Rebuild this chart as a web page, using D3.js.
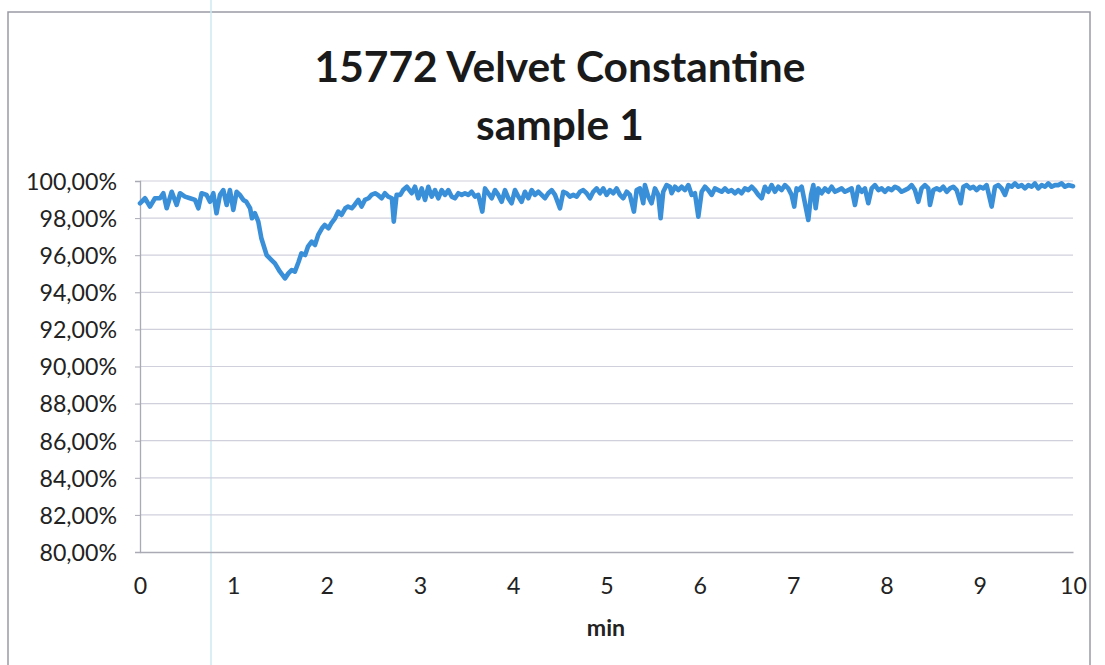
<!DOCTYPE html>
<html><head><meta charset="utf-8">
<script src="https://cdn.jsdelivr.net/npm/d3@7"></script>
<style>html,body{margin:0;padding:0;background:#fff;} svg{display:block;}</style>
</head><body>
<svg id="chart" width="1105" height="665"></svg>
<script>
const titleLines = ["15772 Velvet Constantine", "sample 1"];
const xLabel = "min";
const xTicks = [0,1,2,3,4,5,6,7,8,9,10];
const yTicks = [80,82,84,86,88,90,92,94,96,98,100];
const minutes = [
0.00,0.054,0.107,0.16,0.214,0.25,0.286,0.34,0.393,0.429,0.482,0.536,0.59,0.625,0.66,0.714,0.75,0.786,0.82,0.857,0.893,0.929,0.964,1.0,1.036,1.07,1.107,1.14,1.18,1.2,1.232,1.268,1.3,1.357,1.41,
1.446,1.50,1.554,1.59,1.625,1.66,1.70,1.73,1.77,1.80,1.84,1.875,1.91,1.95,1.98,2.02,2.05,2.09,2.125,2.16,2.20,2.23,2.27,2.30,2.34,2.375,2.41,2.45,2.48,2.52,2.55,2.59,2.625,2.66,2.70,2.72,2.75,2.79,2.82,2.86,
2.912,2.947,2.983,3.019,3.055,3.09,3.126,3.162,3.197,3.233,3.269,3.305,3.34,3.376,3.412,3.448,3.483,3.519,3.555,3.59,3.626,3.669,3.698,3.733,3.769,3.805,3.84,3.876,3.912,3.948,3.983,4.019,4.055,4.09,4.126,4.162,4.198,4.233,4.269,
4.305,4.34,4.376,4.412,4.448,4.501,4.537,4.573,4.608,4.644,4.68,4.716,4.751,4.787,4.823,4.858,4.894,4.93,4.966,5.001,5.037,5.073,5.108,5.144,5.18,5.216,5.251,5.294,5.323,5.358,5.394,5.412,5.448,5.483,5.519,5.555,5.58,5.608,5.644,5.68,
5.698,5.734,5.77,5.805,5.841,5.877,5.913,5.948,5.984,6.02,6.055,6.091,6.127,6.162,6.198,6.234,6.27,6.305,6.341,6.377,6.412,6.448,6.484,6.52,6.555,6.591,6.627,6.663,6.698,6.734,6.77,6.805,6.841,6.877,6.913,6.948,6.984,7.012,7.037,
7.056,7.092,7.127,7.163,7.192,7.217,7.242,7.27,7.306,7.342,7.377,7.413,7.449,7.485,7.52,7.556,7.592,7.627,7.663,7.699,7.735,7.77,7.806,7.842,7.877,7.913,7.949,7.985,8.02,8.056,8.092,8.127,8.163,8.199,8.235,8.27,8.306,8.342,8.377,8.413,8.449,
8.467,8.503,8.539,8.574,8.61,8.646,8.682,8.717,8.753,8.796,8.825,8.86,8.896,8.932,8.967,9.003,9.039,9.074,9.128,9.164,9.2,9.235,9.271,9.307,9.342,9.378,9.414,9.45,9.485,9.521,9.557,9.592,9.628,9.664,9.7,9.735,9.771,9.807,9.842,9.878,9.914,9.95,10.0
];
const purity = [
98.80,99.07,98.62,99.07,99.07,99.34,98.53,99.42,98.71,99.34,99.16,99.07,98.98,98.53,99.34,99.25,98.88,99.34,98.26,99.25,99.51,98.71,99.51,98.44,99.42,99.25,98.98,98.88,98.53,97.99,98.26,97.81,96.93,96.01,95.74,
95.56,95.11,94.75,95.02,95.20,95.11,95.65,96.10,96.01,96.46,96.73,96.55,97.09,97.45,97.63,97.45,97.72,97.99,98.35,98.17,98.53,98.62,98.53,98.71,98.98,98.62,98.98,99.07,99.25,99.34,99.25,99.07,99.34,99.16,99.07,97.81,99.25,99.25,99.51,99.69,
99.34,99.69,99.07,99.60,98.98,99.69,99.16,99.51,99.07,99.51,99.25,99.51,99.16,99.07,99.34,99.25,99.34,99.25,99.42,99.16,99.25,98.35,99.60,99.34,99.07,99.51,99.25,98.88,99.51,99.07,98.80,99.51,99.16,98.88,99.42,99.07,99.51,99.25,99.42,
99.25,99.07,99.34,99.51,99.25,98.53,99.42,99.34,99.16,99.25,99.16,99.42,99.51,99.34,99.07,99.42,99.60,99.34,99.60,99.25,99.51,99.34,99.60,99.25,99.07,99.42,99.25,98.35,99.51,99.60,98.80,99.78,99.16,98.80,99.60,99.25,97.99,99.42,99.78,99.69,
99.34,99.69,99.51,99.69,99.51,99.78,99.25,99.34,98.08,99.42,99.69,99.51,99.25,99.60,99.51,99.42,99.60,99.42,99.51,99.34,99.51,99.34,99.60,99.51,99.69,99.51,99.25,99.07,99.69,99.42,99.78,99.42,99.69,99.51,99.78,99.60,99.25,98.62,99.60,
99.51,99.69,98.80,97.90,99.25,99.78,98.53,99.60,99.34,99.60,99.42,99.69,99.42,99.51,99.60,99.42,99.51,99.60,98.71,99.69,99.42,99.60,98.80,99.60,99.78,99.51,99.60,99.42,99.60,99.51,99.69,99.60,99.42,99.51,99.60,99.78,99.51,98.88,99.60,99.78,99.60,
98.71,99.51,99.60,99.51,99.69,99.42,99.60,99.69,99.51,98.80,99.69,99.78,99.60,99.69,99.51,99.69,99.60,99.78,98.62,99.69,99.78,99.60,99.25,99.78,99.69,99.87,99.69,99.78,99.60,99.78,99.69,99.87,99.60,99.78,99.69,99.87,99.69,99.78,99.78,99.87,99.69,99.78,99.72
];

const svg = d3.select("#chart");
const FONT = "Lato, 'Open Sans', sans-serif";

// outer frame (scan of chart border) and scan artifact line
svg.append("path").attr("d","M8,665 L8,12 L1090,12 L1090,665")
  .attr("fill","none").attr("stroke","#9a9aa6").attr("stroke-width",1.5);
svg.append("line").attr("x1",211).attr("x2",211).attr("y1",0).attr("y2",665)
  .attr("stroke","#cdeaf2").attr("stroke-width",1.5);

const x = d3.scaleLinear().domain([0,10]).range([140,1073]);
const y = d3.scaleLinear().domain([80,100]).range([552,181]);

function fit(sel, target){
  const w = sel.node().getComputedTextLength();
  const fs = parseFloat(sel.attr("font-size"));
  return fs * target / w;
}

// gridlines
svg.append("g").selectAll("line").data(yTicks.filter(d=>d>80)).join("line")
  .attr("x1",x(0)).attr("x2",x(10)).attr("y1",d=>y(d)).attr("y2",d=>y(d))
  .attr("stroke","#cfd0dc").attr("stroke-width",1.2);

// y axis
const fmt = d => d.toFixed(2).replace(".", ",") + "%";
const yAxis = svg.append("g").attr("transform",`translate(${x(0)},0)`)
  .call(d3.axisLeft(y).tickValues(yTicks).tickFormat(fmt).tickSize(5).tickPadding(18));
yAxis.select(".domain").attr("stroke","#a9aab4").attr("stroke-width",1.3);
yAxis.selectAll(".tick line").attr("stroke","#a9aab4");
yAxis.selectAll("text").attr("font-family",FONT).attr("font-size",22).attr("fill","#222");
const probe = yAxis.selectAll("text").filter(d=>d===100);
const tickFs = fit(probe, 91);
yAxis.selectAll("text").attr("font-size",tickFs).attr("x",-23).attr("dy","0.36em");

// x axis
const xAxis = svg.append("g").attr("transform",`translate(0,${y(80)})`)
  .call(d3.axisBottom(x).tickValues(xTicks).tickFormat(d3.format("d")).tickSize(0).tickPadding(26));
xAxis.select(".domain").attr("stroke","#a9aab4").attr("stroke-width",1.3);
xAxis.selectAll("text").attr("font-family",FONT).attr("font-size",tickFs).attr("fill","#222");

// line
const pts = minutes.map((m,i)=>[m,purity[i]]);
svg.append("path").datum(pts)
  .attr("d", d3.line().x(d=>x(d[0])).y(d=>y(d[1])))
  .attr("fill","none").attr("stroke","#3a8fd9").attr("stroke-width",4.6)
  .attr("stroke-linejoin","round").attr("stroke-linecap","round");

// axis title
svg.append("text").attr("x",606).attr("y",627).attr("text-anchor","middle")
  .attr("dominant-baseline","central").attr("font-family",FONT).attr("font-weight","bold")
  .attr("font-size",tickFs).attr("fill","#222").text(xLabel);

// title
const t1 = svg.append("text").attr("x",560).attr("y",65).attr("text-anchor","middle")
  .attr("dominant-baseline","central").attr("font-family",FONT).attr("font-weight","bold")
  .attr("font-size",36).attr("fill","#1a1a1a").text(titleLines[0]);
const titleFs = fit(t1, 491);
t1.attr("font-size",titleFs);
svg.append("text").attr("x",560).attr("y",123).attr("text-anchor","middle")
  .attr("dominant-baseline","central").attr("font-family",FONT).attr("font-weight","bold")
  .attr("font-size",titleFs).attr("fill","#1a1a1a").text(titleLines[1]);
</script>
</body></html>
